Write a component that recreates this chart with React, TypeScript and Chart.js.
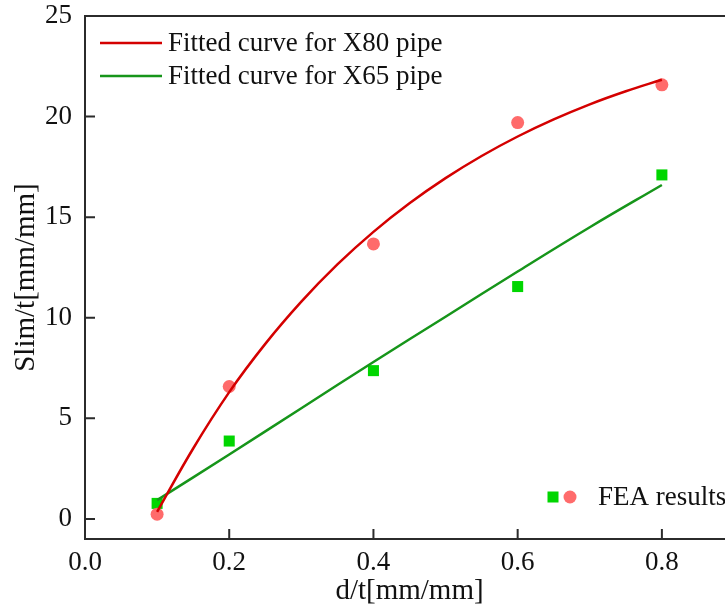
import React, { useEffect, useRef } from 'react';
import { Chart, registerables } from 'chart.js';

Chart.register(...registerables);

// FEA results (markers)
const feaX = [0.1, 0.2, 0.4, 0.6, 0.8];
const x80Fea = [0.23, 6.58, 13.67, 19.7, 21.58];
const x65Fea = [0.77, 3.87, 7.37, 11.55, 17.1];

// Fitted curves
const fitX80X = [0.1, 0.15, 0.2, 0.25, 0.3, 0.35, 0.4, 0.45, 0.5, 0.55, 0.6, 0.65, 0.7, 0.75, 0.8];
const fitX80Y = [0.35, 3.5, 6.3, 8.7, 10.8, 12.65, 14.27, 15.69, 16.94, 18.04, 19.01, 19.86, 20.61, 21.26, 21.83];
const fitX65X = [0.1, 0.2, 0.3, 0.4, 0.5, 0.6, 0.7, 0.8];
const fitX65Y = [0.93, 3.2, 5.5, 7.8, 10.05, 12.3, 14.5, 16.6];

// Axis ticks
const xTicks = [0.0, 0.2, 0.4, 0.6, 0.8];
const yTicks = [0, 5, 10, 15, 20, 25];

const legendFit = ['Fitted curve for X80 pipe', 'Fitted curve for X65 pipe'];
const legendFea = 'FEA results';
const xTitle = 'd/t[mm/mm]';
const yTitle = 'Slim/t[mm/mm]';

const RED_LINE = '#d40000';
const GREEN_LINE = '#16951a';
const RED_PT = '#ff6b6b';
const GREEN_PT = '#00d600';
const AXIS = '#2b2b2b';
const FONT = '"Liberation Serif", "Times New Roman", serif';

const toPts = (xs: number[], ys: number[]) => xs.map((x, i) => ({ x, y: ys[i] }));

const framePlugin = {
  id: 'framePlugin',
  afterDraw(chart: any) {
    const { ctx, chartArea } = chart;
    const xs = chart.scales.x;
    const ys = chart.scales.y;
    ctx.save();
    ctx.strokeStyle = AXIS;
    ctx.lineWidth = 2;
    ctx.strokeRect(chartArea.left, chartArea.top, chartArea.right - chartArea.left, chartArea.bottom - chartArea.top);
    // inward ticks
    const tl = 10;
    ctx.beginPath();
    xs.ticks.forEach((t: any) => {
      const px = xs.getPixelForValue(t.value);
      ctx.moveTo(px, chartArea.bottom);
      ctx.lineTo(px, chartArea.bottom - tl);
    });
    ys.ticks.forEach((t: any) => {
      const py = ys.getPixelForValue(t.value);
      ctx.moveTo(chartArea.left, py);
      ctx.lineTo(chartArea.left + tl, py);
    });
    ctx.stroke();

    // legend for fitted curves
    ctx.font = `27px ${FONT}`;
    ctx.fillStyle = '#111';
    ctx.textBaseline = 'middle';
    ctx.textAlign = 'left';
    const lx0 = chartArea.left + 15;
    const lx1 = chartArea.left + 77;
    const rows = [
      { y: chartArea.top + 27, color: RED_LINE, text: legendFit[0] },
      { y: chartArea.top + 60, color: GREEN_LINE, text: legendFit[1] },
    ];
    rows.forEach((r) => {
      ctx.strokeStyle = r.color;
      ctx.lineWidth = 2.5;
      ctx.beginPath();
      ctx.moveTo(lx0, r.y);
      ctx.lineTo(lx1, r.y);
      ctx.stroke();
      ctx.fillText(r.text, lx1 + 6, r.y + 1);
    });

    // FEA legend
    const fy = chartArea.bottom - 42;
    const sqx = 553;
    ctx.fillStyle = GREEN_PT;
    ctx.fillRect(sqx - 5.5, fy - 5.5, 11, 11);
    ctx.fillStyle = RED_PT;
    ctx.beginPath();
    ctx.arc(570, fy, 6.5, 0, Math.PI * 2);
    ctx.fill();
    ctx.fillStyle = '#111';
    ctx.fillText(legendFea, 598, fy + 1);
    ctx.restore();
  },
};

export default function App() {
  const ref = useRef<HTMLCanvasElement | null>(null);

  useEffect(() => {
    document.body.style.margin = '0';
    document.body.style.overflow = 'hidden';
    const canvas = ref.current;
    if (!canvas) return;
    const chart = new Chart(canvas, {
      type: 'scatter',
      data: {
        datasets: [
          {
            label: legendFit[0],
            data: toPts(fitX80X, fitX80Y),
            showLine: true,
            borderColor: RED_LINE,
            borderWidth: 2.5,
            pointRadius: 0,
            tension: 0.4,
          },
          {
            label: legendFit[1],
            data: toPts(fitX65X, fitX65Y),
            showLine: true,
            borderColor: GREEN_LINE,
            borderWidth: 2.5,
            pointRadius: 0,
            tension: 0.4,
          },
          {
            label: 'FEA X80',
            data: toPts(feaX, x80Fea),
            showLine: false,
            pointStyle: 'circle',
            pointRadius: 6.5,
            pointBorderWidth: 0,
            backgroundColor: RED_PT,
            borderColor: RED_PT,
          },
          {
            label: 'FEA X65',
            data: toPts(feaX, x65Fea),
            showLine: false,
            pointStyle: 'rect',
            pointRadius: 7.8,
            pointBorderWidth: 0,
            backgroundColor: GREEN_PT,
            borderColor: GREEN_PT,
          },
        ],
      } as any,
      options: {
        animation: false,
        responsive: false,
        layout: { padding: { top: 16, right: 11, left: 0, bottom: 0 } },
        plugins: { legend: { display: false }, tooltip: { enabled: false } },
        scales: {
          x: {
            type: 'linear',
            min: 0,
            max: 0.9,
            grid: { display: false, drawTicks: false },
            border: { display: false },
            afterBuildTicks: (s: any) => {
              s.ticks = xTicks.map((v) => ({ value: v }));
            },
            afterFit: (s: any) => {
              s.height = 67;
              s.paddingLeft = 0;
              s.paddingRight = 0;
            },
            ticks: {
              padding: 8,
              color: '#111',
              font: { family: FONT, size: 27 },
              callback: (v: any) => Number(v).toFixed(1),
            },
            title: {
              display: true,
              text: xTitle,
              color: '#111',
              font: { family: FONT, size: 29, lineHeight: 1 },
              padding: { top: 0, bottom: 0 },
            },
          },
          y: {
            type: 'linear',
            min: -1,
            max: 25,
            grid: { display: false, drawTicks: false },
            border: { display: false },
            afterBuildTicks: (s: any) => {
              s.ticks = yTicks.map((v) => ({ value: v }));
            },
            afterFit: (s: any) => {
              s.width = 85;
              s.paddingTop = 0;
              s.paddingBottom = 0;
            },
            ticks: {
              padding: 13,
              color: '#111',
              font: { family: FONT, size: 27 },
              callback: (v: any) => String(Math.round(Number(v))),
            },
            title: {
              display: true,
              text: yTitle,
              color: '#111',
              font: { family: FONT, size: 29, lineHeight: 1 },
              padding: { top: 12, bottom: 0 },
            },
          },
        },
      } as any,
      plugins: [framePlugin],
    });
    return () => chart.destroy();
  }, []);

  return (
    <div style={{ width: 745, height: 606, position: 'relative' }}>
      <canvas ref={ref} width={745} height={606} style={{ display: 'block' }} />
    </div>
  );
}
